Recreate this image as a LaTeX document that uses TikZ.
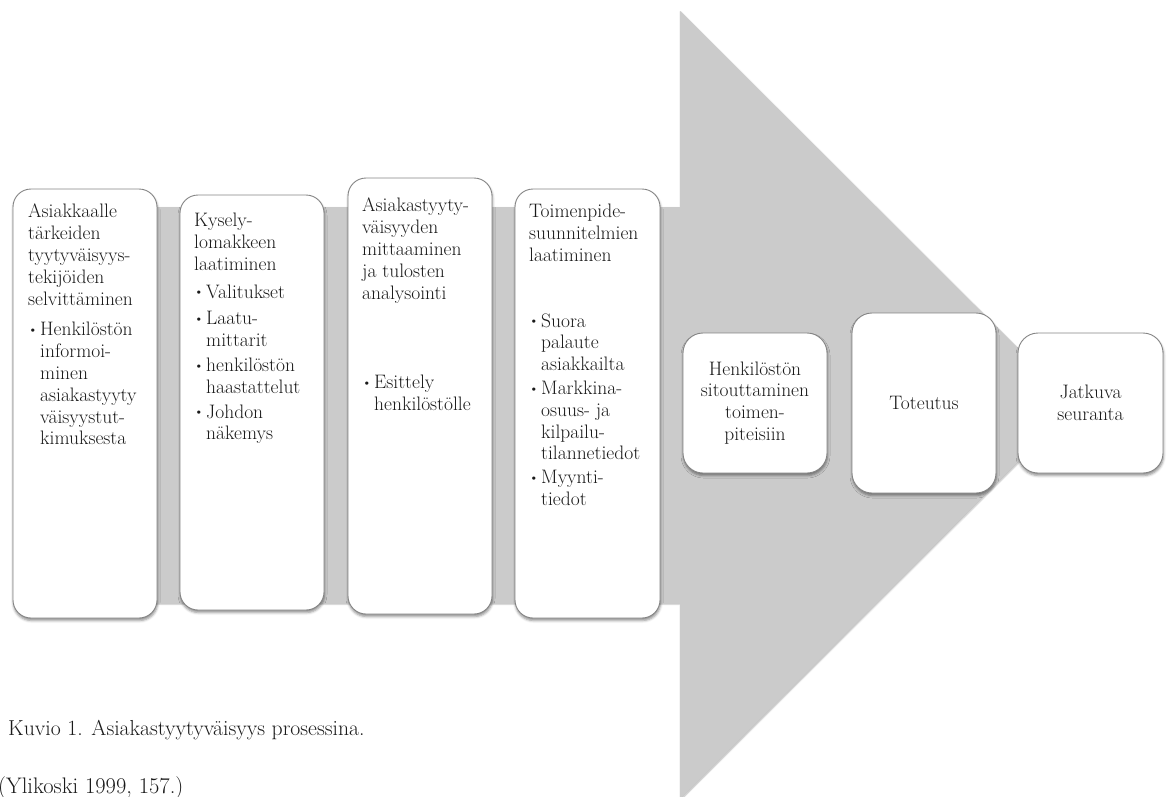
\documentclass[tikz,border=0pt]{standalone}
\usepackage{fontspec}
\usepackage{graphicx}
\usetikzlibrary{shadows.blur}
\definecolor{arrowgray}{HTML}{CBCBCB}
\definecolor{boxline}{HTML}{858585}
\definecolor{inkc}{HTML}{1A1A1A}
\newcommand\itembul{\makebox[12pt][l]{\hspace*{-0.5pt}\raisebox{1.2pt}{\scalebox{0.75}{\textbullet}}}}
\newcommand\itemind{\hspace*{12pt}}
\begin{document}
\begin{tikzpicture}[x=1pt,y=-1pt,
  box/.style={draw=boxline, line width=0.9pt, fill=white, rounded corners=18pt, inner sep=0pt,
    blur shadow={shadow xshift=0.5pt, shadow yshift=-2.5pt, shadow blur radius=2.5pt, shadow opacity=45}},
  txt/.style={anchor=north west, inner sep=0pt, align=left, font=\fontsize{19.5}{21.8}\selectfont, text=inkc},
  ctxt/.style={align=center, font=\fontsize{19.5}{21.8}\selectfont, text=inkc},
  captxt/.style={anchor=base west, inner sep=0pt, text=inkc}]
\useasboundingbox (0,0) rectangle (1167,796);
% big arrow
\fill[arrowgray, blur shadow={shadow xshift=0.5pt, shadow yshift=-1pt, shadow blur radius=1.5pt, shadow opacity=30}]
  (30,207) -- (680,207) -- (680,11) -- (1075,405) -- (680,799) -- (680,603) -- (30,603) -- cycle;
% boxes
\node[box, minimum width=144pt, minimum height=429pt] (b1) at (85,403.5) {};
\node[box, minimum width=144pt, minimum height=415pt] (b2) at (252,402.5) {};
\node[box, minimum width=144pt, minimum height=436pt] (b3) at (420,396) {};
\node[box, minimum width=145pt, minimum height=429pt] (b4) at (587.5,403.5) {};
\node[box, rounded corners=20pt, minimum width=144pt, minimum height=140pt, ctxt] (b5) at (755,403)
  {Henkilöstön\\ sitouttaminen\\ toimen-\\ piteisiin};
\node[box, rounded corners=20pt, minimum width=144pt, minimum height=180pt, ctxt] (b6) at (924,403)
  {Toteutus};
\node[box, rounded corners=20pt, minimum width=145pt, minimum height=140pt, ctxt] (b7) at (1090.5,403)
  {Jatkuva\\ seuranta};
% texts of tall boxes
\node[txt] (t1) at (28,204) {Asiakkaalle\\ tärkeiden\\ tyytyväisyys-\\ tekijöiden\\ selvittäminen\\[9pt]
  \itembul Henkilöstön\\ \itemind informoi-\\ \itemind minen\\ \itemind asiakastyyty\\ \itemind väisyystut-\\ \itemind kimuksesta};
\node[txt] (t2) at (194,213) {Kysely-\\ lomakkeen\\ laatiminen\\[6pt]
  \itembul Valitukset\\[5pt] \itembul Laatu-\\ \itemind mittarit\\[3pt] \itembul henkilöstön\\ \itemind haastattelut\\[3pt]
  \itembul Johdon\\ \itemind näkemys};
\node[txt] (t3) at (362,198) {Asiakastyyty-\\ väisyyden\\ mittaaminen\\ ja tulosten\\ analysointi\\[68pt]
  \itembul Esittely\\ \itemind henkilöstölle};
\node[txt] (t4) at (529,204) {Toimenpide-\\ suunnitelmien\\ laatiminen\\[44pt]
  \itembul Suora\\ \itemind palaute\\ \itemind asiakkailta\\[2pt] \itembul Markkina-\\ \itemind osuus- ja\\ \itemind kilpailu-\\ \itemind tilannetiedot\\[2pt]
  \itembul Myynti-\\ \itemind tiedot};
% caption
\node[captxt, font=\fontsize{21.7}{24}\selectfont] (cap) at (8,735) {Kuvio 1. Asiakastyytyväisyys prosessina.};
\node[captxt, font=\fontsize{22.5}{24}\selectfont] (src) at (-2,793) {(Ylikoski 1999, 157.)};
\end{tikzpicture}
\end{document}
